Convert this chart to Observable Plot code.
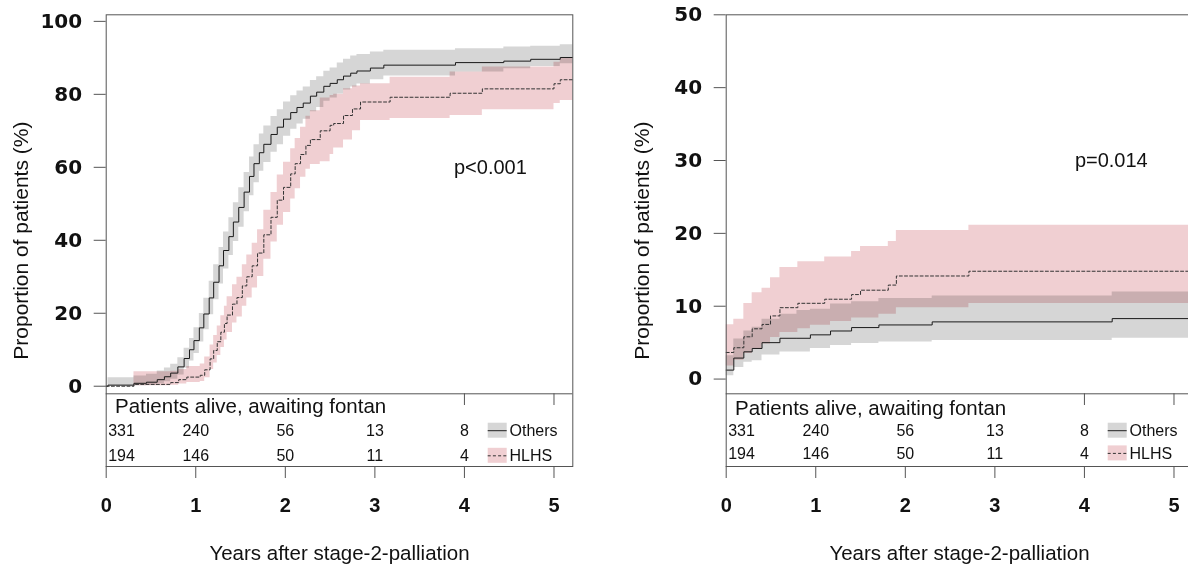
<!DOCTYPE html>
<html>
<head>
<meta charset="utf-8">
<script src="https://cdn.jsdelivr.net/npm/d3@7"></script>
<script src="https://cdn.jsdelivr.net/npm/@observablehq/plot@0.6"></script>
<style>
html, body { margin: 0; padding: 0; background: #fff; }
#wrap { width: 1188px; height: 564px; overflow: hidden; display: flex; }
#wrap > div { flex: none; width: 620px; height: 564px; }
svg { display: block; }
</style>
</head>
<body>
<div id="wrap"><div id="pA"></div><div id="pB"></div></div>
<script>
// ---------------- DATA ----------------
const groups = ["Others", "HLHS"];
const riskTimes = [0, 1, 2, 3, 4];
const riskOthers = [331, 240, 56, 13, 8];
const riskHLHS = [194, 146, 50, 11, 4];
const xTicks = [0, 1, 2, 3, 4, 5];
const yTicksA = [0, 20, 40, 60, 80, 100];
const yTicksB = [0, 10, 20, 30, 40, 50];
const riskHeader = "Patients alive, awaiting fontan";
const xTitle = "Years after stage-2-palliation";
const yTitle = "Proportion of patients (%)";

// Panel A (left): [years, estimate %, lower CI %, upper CI %]
const aOthers = [
  [0, 0, 0, 0], [0.02, 0.3, 0, 2.3], [0.31, 0.8, 0.1, 2.8], [0.45, 1.1, 0.3, 3.3],
  [0.57, 1.8, 0.7, 4.2], [0.65, 2.6, 1.2, 5.0], [0.72, 3.6, 1.9, 6.0], [0.80, 5.3, 3.1, 7.8],
  [0.87, 7.6, 4.9, 10.4], [0.93, 10.0, 6.9, 13.1], [0.98, 12.5, 9.0, 16.0], [1.04, 16.0, 12.1, 19.9],
  [1.09, 19.8, 15.5, 24.1], [1.15, 24.2, 19.6, 28.8], [1.20, 28.5, 23.7, 33.3], [1.26, 33.0, 28.0, 38.0],
  [1.31, 37.2, 32.1, 42.3], [1.37, 41.0, 35.8, 46.2], [1.42, 45.0, 39.7, 50.3], [1.48, 49.0, 43.6, 54.4],
  [1.54, 53.2, 47.8, 58.6], [1.60, 57.5, 52.2, 62.8], [1.65, 61.0, 55.8, 66.2], [1.71, 64.0, 58.9, 69.1],
  [1.76, 66.3, 61.3, 71.3], [1.84, 69.0, 64.1, 73.9], [1.91, 71.0, 66.2, 75.8], [1.98, 73.2, 68.5, 77.9],
  [2.06, 75.0, 70.4, 79.6], [2.13, 76.4, 71.9, 80.9], [2.20, 77.6, 73.2, 82.0], [2.28, 79.5, 75.2, 83.8],
  [2.35, 80.6, 76.4, 84.8], [2.43, 82.2, 78.1, 86.3], [2.50, 83.0, 79.0, 87.2], [2.58, 84.0, 80.1, 88.6],
  [2.65, 85.0, 81.2, 89.6], [2.73, 85.8, 82.0, 90.5], [2.80, 86.4, 82.8, 90.9], [2.95, 87.2, 84.0, 91.6],
  [3.10, 88.0, 85.0, 92.1], [3.90, 88.7, 86.1, 92.5], [4.44, 89.1, 87.0, 93.0], [4.74, 89.6, 87.6, 93.2],
  [5.07, 90.1, 88.4, 93.6], [5.21, 90.1, 88.4, 93.6]
];
const aHLHS = [
  [0, 0, 0, 0], [0.31, 0.5, 0.1, 4.0], [0.72, 1.0, 0.3, 4.1], [0.81, 1.8, 0.6, 4.6],
  [0.90, 2.5, 1.0, 5.4], [1.05, 3.0, 1.3, 6.1], [1.10, 4.5, 2.3, 8.0], [1.16, 7.5, 4.6, 11.3],
  [1.20, 9.8, 6.4, 13.9], [1.24, 12.2, 8.4, 16.5], [1.28, 14.8, 10.6, 19.3], [1.32, 17.2, 12.7, 21.9],
  [1.35, 19.5, 14.7, 24.5], [1.41, 22.5, 17.3, 27.8], [1.46, 24.3, 19.0, 29.9], [1.52, 27.5, 21.9, 33.3],
  [1.57, 30.0, 24.2, 36.0], [1.63, 33.0, 26.9, 39.2], [1.69, 36.5, 30.1, 42.9], [1.76, 41.5, 34.8, 48.2],
  [1.84, 46.3, 39.5, 53.1], [1.91, 51.0, 44.1, 57.9], [1.98, 54.5, 47.6, 61.4], [2.06, 58.2, 51.3, 65.1],
  [2.11, 61.0, 54.1, 67.9], [2.17, 63.5, 57.3, 71.0], [2.23, 66.0, 59.5, 74.0], [2.28, 67.6, 60.8, 75.5],
  [2.39, 70.0, 61.5, 79.0], [2.50, 71.5, 63.5, 79.7], [2.54, 72.0, 65.3, 80.0], [2.65, 74.2, 67.5, 81.5],
  [2.75, 76.0, 70.0, 82.3], [2.84, 77.9, 72.8, 82.9], [3.17, 79.2, 73.4, 84.7], [3.84, 80.3, 74.2, 86.1],
  [4.20, 81.5, 75.8, 87.5], [5.00, 82.9, 77.5, 88.8], [5.07, 84.0, 78.3, 89.8], [5.21, 84.0, 78.3, 89.8]
];
// Panel B (right)
const bOthers = [
  [0, 1.23, 0.45, 3.2], [0.085, 2.88, 1.6, 5.5], [0.197, 3.74, 2.3, 6.6], [0.29, 4.2, 2.5, 7.1],
  [0.40, 5.0, 3.3, 8.2], [0.60, 5.6, 3.7, 8.9], [0.79, 5.6, 3.7, 9.4], [0.94, 6.07, 4.2, 9.6],
  [1.165, 6.6, 4.6, 10.3], [1.40, 7.07, 4.9, 10.6], [1.705, 7.43, 5.1, 11.05], [2.30, 7.85, 5.3, 11.4],
  [4.31, 8.3, 5.6, 11.96], [5.21, 8.3, 5.6, 11.96]
];
const bHLHS = [
  [0, 3.65, 1.8, 7.44], [0.085, 4.3, 2.6, 8.2], [0.197, 5.8, 3.5, 10.36], [0.29, 6.9, 4.2, 11.86],
  [0.40, 7.5, 4.8, 12.46], [0.495, 8.67, 5.7, 13.9], [0.60, 9.8, 6.4, 15.3], [0.80, 10.4, 6.9, 16.1],
  [0.94, 10.4, 7.4, 16.1], [1.10, 10.96, 7.4, 16.75], [1.165, 10.96, 7.9, 16.75], [1.40, 11.6, 8.4, 17.5],
  [1.50, 12.2, 8.4, 18.2], [1.705, 12.2, 8.9, 18.2], [1.81, 12.9, 8.9, 18.9], [1.90, 14.15, 9.8, 20.4],
  [2.71, 14.8, 10.36, 21.1], [5.21, 14.8, 10.36, 21.1]
];
const pLabelA = {t: 4.29, v: 60, label: "p<0.001"};
const pLabelB = {t: 4.30, v: 30, label: "p=0.014"};

// ---------------- STYLE / LAYOUT ----------------
const FONT = "'Liberation Sans', Arial, Helvetica, sans-serif";
const GRAY = "#d6d6d6";
const PINK = "#f0cfd2";
const LINE = "#555";

function panel(cfg) {
  const W = 620, H = 564, ML = 105.7, MR = 47.7, MT = 14.3, MB = 98;
  const xDomain = [0, 5.21];
  const xS = d3.scaleLinear(xDomain, [ML, W - MR]);
  const yS = d3.scaleLinear(cfg.yDomain, [H - MB, MT]);
  const X = px => xS.invert(px);
  const Y = px => yS.invert(px);
  const toRows = (arr, g) => arr.map(([t, v, lo, hi]) => ({t, v, lo, hi, g}));
  const oth = toRows(cfg.others, "Others");
  const hl = toRows(cfg.hlhs, "HLHS");
  const risk = riskTimes.flatMap((t, i) => [
    {t, n: riskOthers[i], g: "Others"},
    {t, n: riskHLHS[i], g: "HLHS"}
  ]);
  const rp = cfg.rowPx;
  const sepY = Y(393.3);
  return Plot.plot({
    width: W, height: H,
    marginLeft: ML, marginRight: MR, marginTop: MT, marginBottom: MB,
    x: {domain: xDomain},
    y: {domain: cfg.yDomain},
    style: {fontFamily: FONT, background: "#fff", color: "#111", overflow: "visible"},
    marks: [
      Plot.areaY(oth, {x: "t", y1: "lo", y2: "hi", curve: "step-after", fill: GRAY, mixBlendMode: "multiply"}),
      Plot.areaY(hl, {x: "t", y1: "lo", y2: "hi", curve: "step-after", fill: PINK, mixBlendMode: "multiply"}),
      Plot.line(oth, {x: "t", y: "v", curve: "step-after", stroke: "#1a1a1a", strokeWidth: 1}),
      Plot.line(hl, {x: "t", y: "v", curve: "step-after", stroke: "#333", strokeWidth: 1, strokeDasharray: "3,2.2"}),
      Plot.frame({stroke: LINE}),
      Plot.ruleY([sepY], {stroke: LINE}),
      Plot.ruleX([4, 5], {y1: () => sepY, y2: () => Y(405), stroke: LINE}),
      Plot.axisX(xTicks, {tickSize: 12, tickPadding: 19, fontSize: 20, fontWeight: "bold", label: null, stroke: LINE, tickFormat: d => String(d)}),
      Plot.axisY(cfg.yTicks, {tickSize: 12, tickPadding: 12, fontSize: 20, fontWeight: "bold", fontFamily: "'DejaVu Sans', sans-serif", label: null, stroke: LINE, tickFormat: d => String(d)}),
      Plot.text([cfg.p], {x: "t", y: "v", text: "label", fontSize: 20}),
      // risk table
      Plot.text([riskHeader], {x: () => X(114.5), y: () => Y(rp.header), textAnchor: "start", fontSize: 20.5}),
      Plot.text(risk.filter(d => d.t === 0), {x: "t", y: d => Y(rp[d.g]), text: "n", textAnchor: "start", dx: 2, fontSize: 16}),
      Plot.text(risk.filter(d => d.t > 0), {x: "t", y: d => Y(rp[d.g]), text: "n", fontSize: 16}),
      // legend inside the table
      Plot.rect(["Others"], {x1: () => X(487.7), x2: () => X(506.7), y1: d => Y(rp[d] - 7.5), y2: d => Y(rp[d] + 7.5), fill: GRAY}),
      Plot.rect(["HLHS"], {x1: () => X(487.7), x2: () => X(506.7), y1: d => Y(rp[d] - 7.5), y2: d => Y(rp[d] + 7.5), fill: PINK}),
      Plot.ruleY(["Others"], {y: d => Y(rp[d]), x1: () => X(487.7), x2: () => X(506.7), stroke: "#222"}),
      Plot.ruleY(["HLHS"], {y: d => Y(rp[d]), x1: () => X(487.7), x2: () => X(506.7), stroke: "#333", strokeDasharray: "3,2.2"}),
      Plot.text(groups, {x: () => X(509), y: d => Y(rp[d]), text: d => d, textAnchor: "start", fontSize: 16}),
      // titles
      Plot.text([xTitle], {frameAnchor: "bottom", textAnchor: "middle", dy: 93, lineAnchor: "bottom", fontSize: 20.5}),
      Plot.text([yTitle], {frameAnchor: "left", textAnchor: "middle", rotate: -90, dx: cfg.titleDx, lineAnchor: "bottom", fontSize: 21})
    ]
  });
}

document.getElementById("pA").append(panel({
  yDomain: [-22.0, 101.8], yTicks: yTicksA, others: aOthers, hlhs: aHLHS, p: pLabelA,
  rowPx: {header: 406.3, Others: 430.2, HLHS: 455.3}, titleDx: -78
}));
document.getElementById("pB").append(panel({
  yDomain: [-12.0, 50], yTicks: yTicksB, others: bOthers, hlhs: bHLHS, p: pLabelB,
  rowPx: {header: 407.5, Others: 430.2, HLHS: 452.9}, titleDx: -77.7
}));
</script>
</body>
</html>
